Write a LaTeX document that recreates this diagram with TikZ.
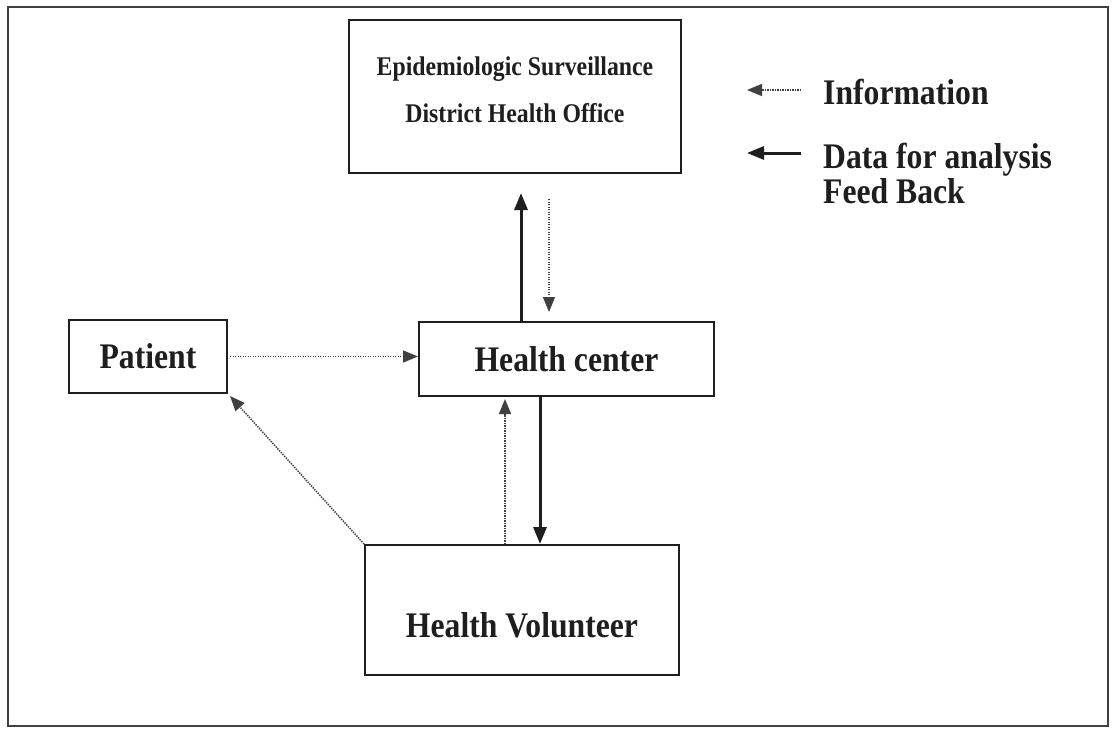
\documentclass[tikz,border=0pt]{standalone}
\usepackage{fontspec}
\setmainfont{Liberation Serif}[FakeStretch=0.88]
\usetikzlibrary{arrows.meta}
\definecolor{ink}{HTML}{1E1E1E}
\tikzset{
	box/.style={draw=ink, line width=2pt, inner sep=0pt},
	data/.style={-{Triangle[length=17pt,width=13pt]}, line width=3pt, draw=ink},
	info/.style={-{Triangle[length=15pt,width=12pt]}, line width=1.5pt, draw=ink!85, dash pattern=on 1.4pt off 1.1pt}
}
\begin{document}
\begin{tikzpicture}[x=1pt, y=-1pt, text=ink, font=\bfseries\fontsize{36}{35}\selectfont]
		\useasboundingbox (0,0) rectangle (1114,729);
		\draw[line width=2pt, draw=ink!85] (8,7) rectangle (1108,726);
		
		\node[box, minimum width=332pt, minimum height=153pt] (epi) at (515,96.5) {};
		\node[inner sep=0pt, align=center, font=\bfseries\fontsize{27}{47}\selectfont] (epitext) at (515,90) {Epidemiologic Surveillance\\District Health Office};
		\node[box, minimum width=158pt, minimum height=73pt] (patient) at (148,356.5) {Patient};
		\node[box, minimum width=295pt, minimum height=74pt] (hc) at (566.5,359) {Health center};
		\node[box, minimum width=314pt, minimum height=130pt] (hv) at (522,610) {};
		\node[inner sep=0pt] (hvtext) at (522,625) {Health Volunteer};
		
		\node[inner sep=0pt, anchor=west] (infotext) at (823,92) {Information};
		\node[inner sep=0pt, anchor=north west, align=left] (datatext) at (823,142.5) {Data for analysis\\Feed Back};
		\coordinate (infotail) at (801,90);
		\coordinate (infohead) at (747,90);
		\coordinate (datatail) at (801,153);
		\coordinate (datahead) at (747,153);
		\draw[info] (infotail) -- (infohead);
		\draw[data] (datatail) -- (datahead);
		
		\draw[data] ([xshift=-45.5pt]hc.north) -- ([xshift=6pt,yshift=-19pt]epi.south);
		\draw[info] ([xshift=34pt,yshift=-25pt]epi.south) -- ([xshift=-17.5pt,yshift=9pt]hc.north);
		\draw[info] ([xshift=2pt]patient.east) -- (patient.east -| hc.west);
		\draw[info] (hv.north west) -- ([xshift=2pt,yshift=-2pt]patient.south east);
		\draw[info] ([xshift=-17pt]hv.north) -- ([xshift=-61.5pt,yshift=-2pt]hc.south);
		\draw[data] ([xshift=-26.5pt]hc.south) -- ([xshift=18pt]hv.north);
\end{tikzpicture}
\end{document}
